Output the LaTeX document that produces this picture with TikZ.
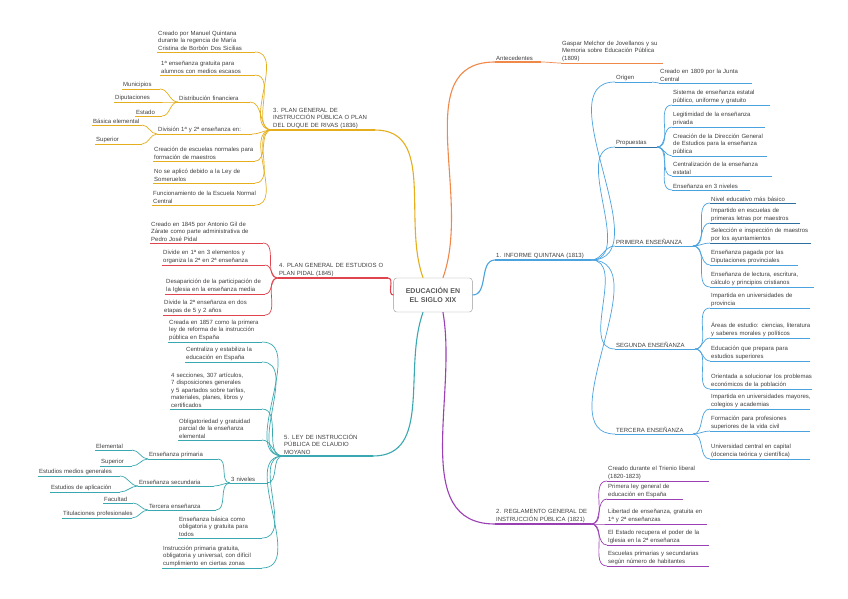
\documentclass[tikz,border=0pt]{standalone}
\usepackage{fontspec}
\setmainfont{Liberation Sans}
\begin{document}
\begin{tikzpicture}[x=1pt,y=-1pt,
  lft/.style={inner xsep=1pt,inner ysep=1.2pt,align=left,font=\fontsize{6}{7.6}\selectfont,execute at begin node={\hyphenpenalty=10000 \exhyphenpenalty=10000 },text=black!75},
  cn/.style={line width=0.7pt}]
\definecolor{cO}{HTML}{F0884A}\definecolor{cB}{HTML}{4AA3DF}\definecolor{cBd}{HTML}{2F6F9F}
\definecolor{cP}{HTML}{9B3FB5}\definecolor{cY}{HTML}{E5AE1C}\definecolor{cR}{HTML}{E0454F}
\definecolor{cT}{HTML}{3AA8B0}
\fill[white] (0,0) rectangle (848,599);
\useasboundingbox (0,0) rectangle (848,599);
\newcommand\lf[7]{%
 \node[lft,text width=#4pt,anchor=south west] (#1) at (#2,#3) {#7};
 \coordinate (#1L) at (#2,#3); \coordinate (#1R) at (#2+#4,#3);
 \draw[#5,line width=#6] (#1L) -- (#1R);}
\newcommand\rc[3]{\draw[#1,cn] (#2R) to[out=0,in=180] (#3L);}
\newcommand\lc[3]{\draw[#1,cn] (#2L) to[out=180,in=0] (#3R);}
% centre
\node[draw=black!40,rounded corners=3pt,fill=white,text width=72pt,align=center,
  font=\fontsize{7}{8.5}\selectfont\bfseries,text=black!65,minimum height=34pt] (c) at (433,295) {EDUCACIÓN EN EL SIGLO XIX};
% ---- orange
\lf{ant}{495}{62}{46}{cO}{1.1pt}{Antecedentes}
\lf{jov}{561}{63}{102}{cO}{0.7pt}{Gaspar Melchor de Jovellanos y su Memoria sobre Educación Pública (1809)}
\draw[cO,line width=1.1pt] (c.60) to[out=70,in=180] (antL);
\rc{cO}{ant}{jov}
% ---- blue
\lf{inf}{495}{260}{96}{cB}{1.1pt}{1. INFORME QUINTANA (1813)}
\draw[cB,line width=1.1pt] (c.east) to[out=0,in=180] (infL);
\lf{ori}{615}{82}{37}{cB}{0.7pt}{Origen}
\lf{ori1}{659}{83}{93}{cB}{0.7pt}{Creado en 1809 por la Junta Central}
\lf{pro}{615}{147}{42}{cBd}{1pt}{Propuestas}
\lf{p1}{672}{105}{98}{cB}{0.7pt}{Sistema de enseñanza estatal público, uniforme y gratuito}
\lf{p2}{672}{127}{93}{cB}{0.7pt}{Legitimidad de la enseñanza privada}
\lf{p3}{672}{156}{95}{cB}{0.7pt}{Creación de la Dirección General de Estudios para la enseñanza pública}
\lf{p4}{672}{176}{100}{cB}{0.7pt}{Centralización de la enseñanza estatal}
\lf{p5}{672}{190}{78}{cB}{0.7pt}{Enseñanza en 3 niveles}
\lf{pe}{615}{246}{78}{cB}{0.7pt}{PRIMERA ENSEÑANZA}
\lf{e1}{710}{203}{86}{cBd}{1pt}{Nivel educativo más básico}
\lf{e2}{710}{223}{90}{cBd}{1pt}{Impartido en escuelas de primeras letras por maestros}
\lf{e3}{710}{243}{101}{cBd}{1pt}{Selección e inspección de maestros por los ayuntamientos}
\lf{e4}{710}{265}{88}{cB}{0.7pt}{Enseñanza pagada por las Diputaciones provinciales}
\lf{e5}{710}{287}{104}{cB}{0.7pt}{Enseñanza de lectura, escritura, cálculo y principios cristianos}
\lf{se}{615}{349}{80}{cB}{0.7pt}{SEGUNDA ENSEÑANZA}
\lf{s1}{710}{308}{100}{cB}{0.7pt}{Impartida en universidades de provincia}
\lf{s2}{710}{338}{100}{cB}{0.7pt}{Áreas de estudio: ciencias, literatura y saberes morales y políticos}
\lf{s3}{710}{361}{100}{cB}{0.7pt}{Educación que prepara para estudios superiores}
\lf{s4}{710}{389}{102}{cB}{0.7pt}{Orientada a solucionar los problemas económicos de la población}
\lf{te}{615}{434}{78}{cB}{0.7pt}{TERCERA ENSEÑANZA}
\lf{t1}{710}{409}{100}{cB}{0.7pt}{Impartida en universidades mayores, colegios y academias}
\lf{t2}{710}{431}{100}{cB}{0.7pt}{Formación para profesiones superiores de la vida civil}
\lf{t3}{710}{459}{100}{cB}{0.7pt}{Universidad central en capital (docencia teórica y científica)}
\foreach \k in {ori,pro,pe,se,te}{\rc{cB}{inf}{\k}}
\rc{cB}{ori}{ori1}
\foreach \k in {p1,p2,p3,p4,p5}{\rc{cB}{pro}{\k}}
\foreach \k in {e1,e2,e3,e4,e5}{\rc{cB}{pe}{\k}}
\foreach \k in {s1,s2,s3,s4}{\rc{cB}{se}{\k}}
\foreach \k in {t1,t2,t3}{\rc{cB}{te}{\k}}
% ---- purple
\lf{reg}{495}{524}{96}{cP}{1.1pt}{2. REGLAMENTO GENERAL DE INSTRUCCIÓN PÚBLICA (1821)}
\draw[cP,line width=1.1pt] (c.-60) to[out=-80,in=180] (regL);
\lf{r1}{607}{481}{102}{cP}{0.7pt}{Creado durante el Trienio liberal (1820-1823)}
\lf{r2}{607}{499}{76}{cP}{0.7pt}{Primera ley general de educación en España}
\lf{r3}{607}{524}{100}{cP}{0.7pt}{Libertad de enseñanza, gratuita en 1ª y 2ª enseñanzas}
\lf{r4}{607}{545}{102}{cP}{0.7pt}{El Estado recupera el poder de la Iglesia en la 2ª enseñanza}
\lf{r5}{607}{566}{102}{cP}{0.7pt}{Escuelas primarias y secundarias según número de habitantes}
\foreach \k in {r1,r2,r3,r4,r5}{\rc{cP}{reg}{\k}}
% ---- yellow
\lf{riv}{272}{130}{103}{cY}{1.1pt}{3. PLAN GENERAL DE INSTRUCCIÓN PÚBLICA O PLAN DEL DUQUE DE RIVAS (1836)}
\draw[cY,line width=1.1pt] (c.120) to[out=110,in=0] (rivR);
\lf{y1}{157}{52}{98}{cY}{0.7pt}{Creado por Manuel Quintana durante la regencia de María Cristina de Borbón Dos Sicilias}
\lf{y2}{160}{75}{95}{cY}{0.7pt}{1ª enseñanza gratuita para alumnos con medios escasos}
\lf{y3}{178}{102}{72}{cY}{0.7pt}{Distribución financiera}
\lf{y31}{122}{89}{38}{cY}{0.7pt}{Municipios}
\lf{y32}{114}{102}{46}{cY}{0.7pt}{Diputaciones}
\lf{y33}{135}{116}{27}{cY}{0.7pt}{Estado}
\lf{y4}{157}{134}{95}{cY}{0.7pt}{División 1ª y 2ª enseñanza en:}
\lf{y41}{92}{125}{50}{cY}{0.7pt}{Básica elemental}
\lf{y42}{95}{144}{47}{cY}{0.7pt}{Superior}
\lf{y5}{153}{161}{102}{cY}{0.7pt}{Creación de escuelas normales para formación de maestros}
\lf{y6}{153}{183}{102}{cY}{0.7pt}{No se aplicó debido a la Ley de Someruelos}
\lf{y7}{152}{205}{103}{cY}{0.7pt}{Funcionamiento de la Escuela Normal Central}
\foreach \k in {y1,y2,y3,y4,y5,y6,y7}{\lc{cY}{riv}{\k}}
\foreach \k in {y31,y32,y33}{\lc{cY}{y3}{\k}}
\foreach \k in {y41,y42}{\lc{cY}{y4}{\k}}
% ---- red
\lf{pid}{278}{278}{110}{cR}{1.1pt}{4. PLAN GENERAL DE ESTUDIOS O PLAN PIDAL (1845)}
\draw[cR,line width=1.1pt] (c.west) to[out=180,in=0] (pidR);
\lf{d1}{150}{243}{113}{cR}{0.7pt}{Creado en 1845 por Antonio Gil de Zárate como parte administrativa de Pedro José Pidal}
\lf{d2}{162}{265}{103}{cR}{0.7pt}{Divide en 1ª en 3 elementos y organiza la 2ª en 2ª enseñanza}
\lf{d3}{165}{294}{100}{cR}{0.7pt}{Desaparición de la participación de la Iglesia en la enseñanza media}
\lf{d4}{163}{315}{102}{cR}{0.7pt}{Divide la 2ª enseñanza en dos etapas de 5 y 2 años}
\foreach \k in {d1,d2,d3,d4}{\lc{cR}{pid}{\k}}
% ---- teal
\lf{moy}{283}{456}{90}{cT}{1.1pt}{5. LEY DE INSTRUCCIÓN PÚBLICA DE CLAUDIO MOYANO}
\draw[cT,line width=1.1pt] (c.-120) to[out=-110,in=0] (moyR);
\lf{m1}{168}{342}{94}{cT}{0.7pt}{Creada en 1857 como la primera ley de reforma de la instrucción pública en España}
\lf{m2}{185}{362}{77}{cT}{0.7pt}{Centraliza y estabiliza la educación en España}
\lf{m3}{170}{409}{92}{cT}{0.7pt}{4 secciones, 307 artículos, 7 disposiciones generales y 5 apartados sobre tarifas, materiales, planes, libros y certificados}
\lf{m4}{178}{440}{84}{cT}{0.7pt}{Obligatoriedad y gratuidad parcial de la enseñanza elemental}
\lf{m5}{230}{483}{37}{cT}{0.7pt}{3 niveles}
\lf{n1}{148}{459}{70}{cT}{0.7pt}{Enseñanza primaria}
\lf{n11}{95}{450}{37}{cT}{0.7pt}{Elemental}
\lf{n12}{100}{466}{32}{cT}{0.7pt}{Superior}
\lf{n2}{138}{486}{76}{cT}{0.7pt}{Enseñanza secundaria}
\lf{n21}{38}{476}{82}{cT}{0.7pt}{Estudios medios generales}
\lf{n22}{50}{492}{70}{cT}{0.7pt}{Estudios de aplicación}
\lf{n3}{148}{510}{68}{cT}{0.7pt}{Tercera enseñanza}
\lf{n31}{103}{503}{30}{cT}{0.7pt}{Facultad}
\lf{n32}{62}{518}{70}{cT}{0.7pt}{Titulaciones profesionales}
\lf{m6}{178}{538}{84}{cT}{0.7pt}{Enseñanza básica como obligatoria y gratuita para todos}
\lf{m7}{162}{568}{100}{cT}{0.7pt}{Instrucción primaria gratuita, obligatoria y universal, con difícil cumplimiento en ciertas zonas}
\foreach \k in {m1,m2,m3,m4,m5,m6,m7}{\lc{cT}{moy}{\k}}
\foreach \k in {n1,n2,n3}{\lc{cT}{m5}{\k}}
\foreach \k in {n11,n12}{\lc{cT}{n1}{\k}}
\foreach \k in {n21,n22}{\lc{cT}{n2}{\k}}
\foreach \k in {n31,n32}{\lc{cT}{n3}{\k}}
\end{tikzpicture}
\end{document}
